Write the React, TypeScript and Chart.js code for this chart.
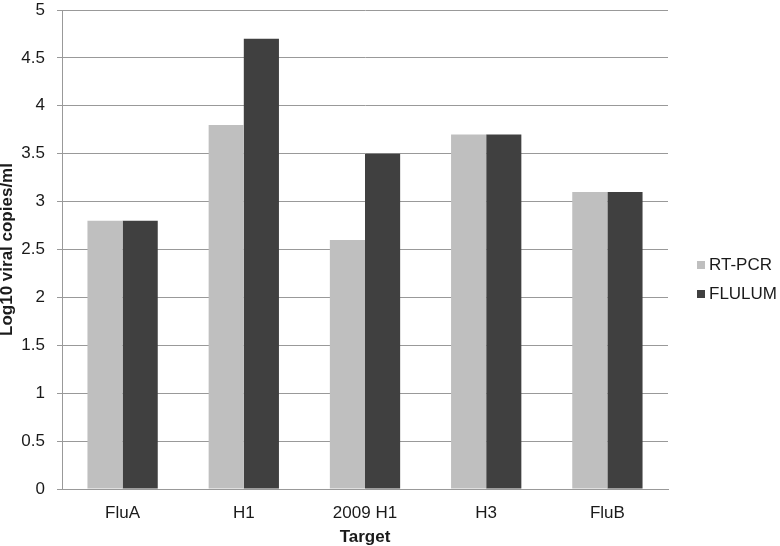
import React, { useEffect, useRef } from "react";
import { Chart, registerables } from "chart.js";

Chart.register(...registerables);

const categories = ["FluA", "H1", "2009 H1", "H3", "FluB"];
const rtPcr = [2.8, 3.8, 2.6, 3.7, 3.1];
const flulum = [2.8, 4.7, 3.5, 3.7, 3.1];
const seriesNames = ["RT-PCR", "FLULUM"];
const seriesColors = ["#bfbfbf", "#404040"];
const yTitle = "Log10 viral copies/ml";
const xTitle = "Target";

const FONT = "'Liberation Sans', Arial, sans-serif";
const TEXT = "#1a1a1a";

const sideLegend = {
  id: "sideLegend",
  afterDraw(chart: any) {
    const ctx = chart.ctx;
    const ds = chart.data.datasets;
    const x0 = chart.chartArea.right + 29;
    const spacing = 29;
    ctx.save();
    ctx.font = `17px ${FONT}`;
    ctx.textBaseline = "middle";
    ctx.textAlign = "left";
    ds.forEach((d: any, i: number) => {
      const y = 265 + i * spacing;
      ctx.fillStyle = d.backgroundColor;
      ctx.fillRect(x0, y - 4, 8, 8);
      ctx.fillStyle = TEXT;
      ctx.fillText(d.label, x0 + 12, y);
    });
    ctx.restore();
  },
};

export default function App() {
  const ref = useRef<HTMLCanvasElement | null>(null);

  useEffect(() => {
    document.body.style.margin = "0";
    const canvas = ref.current;
    if (!canvas) return;
    const chart = new Chart(canvas, {
      type: "bar",
      data: {
        labels: categories,
        datasets: [
          {
            label: seriesNames[0],
            data: rtPcr,
            backgroundColor: seriesColors[0],
            borderWidth: 0,
            categoryPercentage: 0.58,
            barPercentage: 1,
          },
          {
            label: seriesNames[1],
            data: flulum,
            backgroundColor: seriesColors[1],
            borderWidth: 0,
            categoryPercentage: 0.58,
            barPercentage: 1,
          },
        ],
      },
      options: {
        animation: false,
        responsive: false,
        events: [],
        layout: { padding: { top: 10, right: 112, bottom: 0, left: 0 } },
        plugins: {
          legend: { display: false },
          tooltip: { enabled: false },
        },
        scales: {
          x: {
            grid: { display: false, drawTicks: false },
            border: { display: true, color: "#999", width: 1 },
            ticks: {
              padding: 14,
              color: TEXT,
              font: { family: FONT, size: 17 },
            },
            title: {
              display: true,
              text: xTitle,
              color: TEXT,
              padding: { top: 0, bottom: 0 },
              font: { family: FONT, size: 17, weight: "bold", lineHeight: 1.0 },
            },
            afterFit(scale: any) {
              scale.height = 57;
              scale.paddingLeft = 0;
              scale.paddingRight = 0;
            },
          },
          y: {
            min: 0,
            max: 5,
            grid: {
              color: "#999",
              lineWidth: 1,
              tickLength: 5,
              drawTicks: true,
            },
            border: { display: true, color: "#999", width: 1 },
            ticks: {
              stepSize: 0.5,
              padding: 12,
              color: TEXT,
              font: { family: FONT, size: 17 },
              callback: (v: any) => String(Number(v)),
            },
            title: {
              display: true,
              text: yTitle,
              color: TEXT,
              padding: { top: 0, bottom: 0 },
              font: { family: FONT, size: 17, weight: "bold", lineHeight: 0.9 },
            },
            afterFit(scale: any) {
              scale.width = 62;
              scale.paddingTop = 0;
              scale.paddingBottom = 0;
            },
          },
        },
      },
      plugins: [sideLegend],
    });
    return () => chart.destroy();
  }, []);

  return (
    <div style={{ width: 780, height: 546 }}>
      <canvas ref={ref} width={780} height={546} />
    </div>
  );
}
